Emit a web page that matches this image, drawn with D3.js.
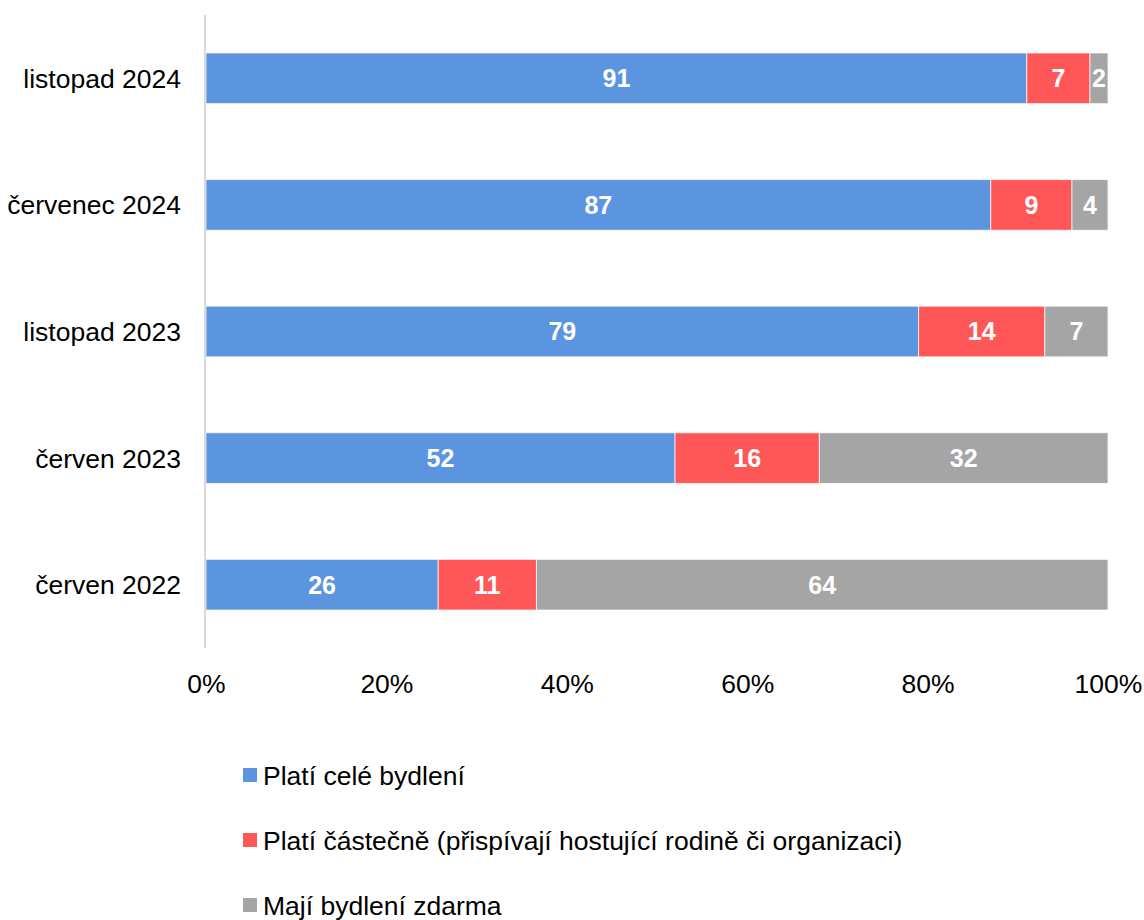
<!DOCTYPE html>
<html>
<head>
<meta charset="utf-8">
<script src="https://cdn.jsdelivr.net/npm/d3@7"></script>
<style>
body { margin: 0; background: #fff; }
text { font-family: "Liberation Sans", Arial, sans-serif; }
</style>
</head>
<body>
<svg width="1144" height="920"></svg>
<script>
var categories = ["listopad 2024", "červenec 2024", "listopad 2023", "červen 2023", "červen 2022"];
var seriesNames = ["Platí celé bydlení", "Platí částečně (přispívají hostující rodině či organizaci)", "Mají bydlení zdarma"];
var fullPay = [91, 87, 79, 52, 26];
var partPay = [7, 9, 14, 16, 11];
var freeHousing = [2, 4, 7, 32, 64];
var colors = ["#5b94df", "#ff5757", "#a5a5a5"];
var ticks = [0, 0.2, 0.4, 0.6, 0.8, 1];

var svg = d3.select("svg");

var x = d3.scaleLinear().domain([0, 1]).range([206, 1108]);
var y = d3.scaleBand().domain(categories).range([15, 648]).paddingInner(0.6).paddingOuter(0.3);

var rows = categories.map(function (c, i) {
    return { cat: c, vals: [fullPay[i], partPay[i], freeHousing[i]] };
});

// stacked segments, normalized to row total
rows.forEach(function (r) {
    var total = d3.sum(r.vals);
    var acc = 0;
    r.segs = r.vals.map(function (v, k) {
        var s = { k: k, v: v, x0: acc / total, x1: (acc + v) / total };
        acc += v;
        return s;
    });
});

var row = svg.selectAll(".row")
    .data(rows)
    .enter()
    .append("g")
    .attr("class", "row")
    .attr("transform", function (d) { return "translate(0," + y(d.cat) + ")"; });

row.selectAll("rect")
    .data(function (d) { return d.segs; })
    .enter()
    .append("rect")
    .attr("x", function (d) { return x(d.x0); })
    .attr("width", function (d) { return x(d.x1) - x(d.x0); })
    .attr("height", y.bandwidth())
    .attr("fill", function (d) { return colors[d.k]; })
    .attr("stroke", "#ffffff")
    .attr("stroke-opacity", 0.7)
    .attr("stroke-width", 1);

row.selectAll(".lbl")
    .data(function (d) { return d.segs; })
    .enter()
    .append("text")
    .attr("class", "lbl")
    .attr("x", function (d) { return (x(d.x0) + x(d.x1)) / 2; })
    .attr("y", y.bandwidth() / 2)
    .attr("dy", "0.36em")
    .attr("text-anchor", "middle")
    .attr("fill", "#fff")
    .attr("font-weight", "bold")
    .attr("font-size", "25px")
    .text(function (d) { return d.v; });

// vertical axis line
svg.append("line")
    .attr("x1", 205).attr("x2", 205)
    .attr("y1", 15).attr("y2", 648)
    .attr("stroke", "#d9d9d9")
    .attr("stroke-width", 2);

// category labels
svg.selectAll(".cat")
    .data(categories)
    .enter()
    .append("text")
    .attr("class", "cat")
    .attr("x", 181)
    .attr("y", function (d) { return y(d) + y.bandwidth() / 2; })
    .attr("dy", "0.36em")
    .attr("text-anchor", "end")
    .attr("font-size", "26.5px")
    .attr("fill", "#000")
    .text(function (d) { return d; });

// x axis ticks
var xAxis = svg.append("g")
    .attr("transform", "translate(0,674)")
    .call(d3.axisBottom(x).tickValues(ticks).tickFormat(d3.format(".0%")).tickSize(0).tickPadding(0));
xAxis.select(".domain").remove();
xAxis.selectAll("text")
    .attr("font-size", "26.5px")
    .attr("font-family", "'Liberation Sans', Arial, sans-serif")
    .attr("fill", "#000")
    .attr("dy", "0.71em");

// legend
var legend = svg.selectAll(".leg")
    .data(seriesNames)
    .enter()
    .append("g")
    .attr("class", "leg")
    .attr("transform", function (d, i) { return "translate(243," + (775 + i * 65) + ")"; });

legend.append("rect")
    .attr("x", 0)
    .attr("y", -7)
    .attr("width", 14)
    .attr("height", 14)
    .attr("fill", function (d, i) { return colors[i]; });

legend.append("text")
    .attr("x", 20)
    .attr("dy", "0.36em")
    .attr("font-size", "26.5px")
    .attr("fill", "#000")
    .text(function (d) { return d; });
</script>
</body>
</html>
